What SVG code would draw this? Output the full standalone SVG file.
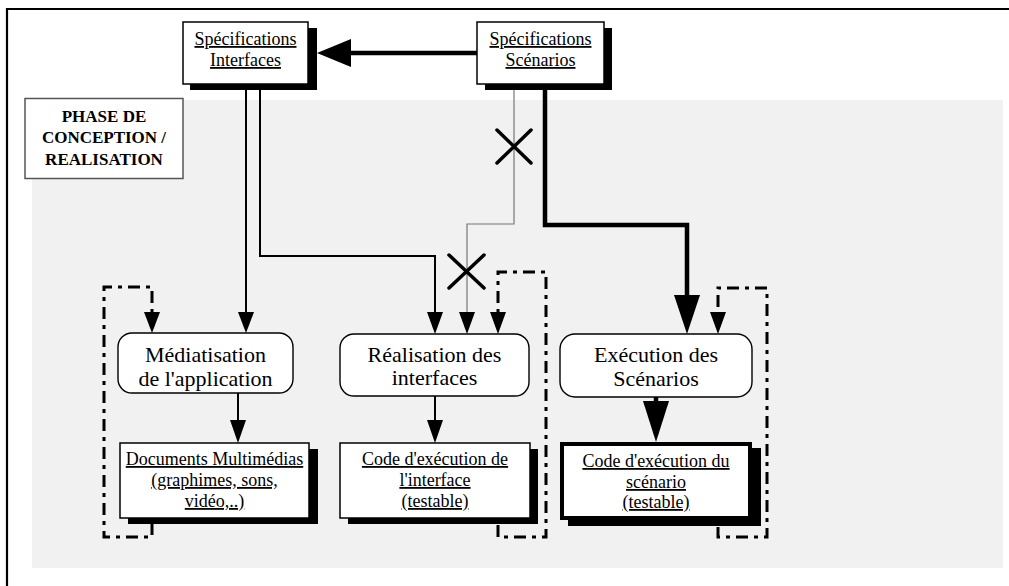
<svg xmlns="http://www.w3.org/2000/svg" width="1009" height="586" viewBox="0 0 1009 586">
<style>
.t{font-family:'Liberation Serif','DejaVu Serif',serif;fill:#000;text-anchor:middle}
.doc{font-size:18px;text-decoration:underline}
.node{font-size:22px}
.ph{font-size:17px;font-weight:bold}
.box{fill:#fff;stroke:#000;stroke-width:1.5}
.sh{fill:#000}
.rr{fill:#fff;stroke:#000;stroke-width:1.4}
.ln{fill:none;stroke:#000;stroke-width:2}
.thk{fill:none;stroke:#000;stroke-width:4.5}
.gry{fill:none;stroke:#777;stroke-width:1.2}
.dsh{fill:none;stroke:#000;stroke-width:3;stroke-dasharray:12,6,4,6}
.x{stroke:#000;stroke-width:3.5;stroke-linecap:round}
.hd{fill:#000}
</style>
<rect width="1009" height="586" fill="#fff"/>
<polyline points="7,586 7,9 1009,9" fill="none" stroke="#000" stroke-width="2.2"/>
<rect x="32" y="100" width="971" height="468" fill="#f1f1f1"/>

<g id="phase">
<rect x="25" y="98.5" width="158" height="80" fill="#fff" stroke="#555" stroke-width="1.5"/>
<text class="t ph" x="104" y="122" font-family="Liberation Serif, serif">PHASE DE</text>
<text class="t ph" x="104" y="143" font-family="Liberation Serif, serif">CONCEPTION /</text>
<text class="t ph" x="104" y="165" font-family="Liberation Serif, serif">REALISATION</text>
</g>

<g id="connectors">
<line class="thk" x1="477" y1="53" x2="349" y2="53"/>
<polygon class="hd" points="317,53 351,39 351,67"/>
<line class="ln" x1="246" y1="90" x2="246" y2="313"/>
<polygon class="hd" points="238,312 254,312 246,333"/>
<polyline class="ln" points="260,90 260,256 435,256 435,313"/>
<polygon class="hd" points="427,312 443,312 435,334"/>
<polyline class="gry" points="514,90 514,224 467,224 467,313"/>
<polygon class="hd" points="459,312 475,312 467,334"/>
<line class="x" x1="497" y1="130" x2="531" y2="163"/>
<line class="x" x1="531" y1="130" x2="497" y2="163"/>
<line class="x" x1="449" y1="255" x2="484" y2="288"/>
<line class="x" x1="484" y1="255" x2="449" y2="288"/>
<polyline class="thk" points="545,90 545,225 687,225 687,297"/>
<polygon class="hd" points="674,295 700,295 687,334"/>
<line class="ln" x1="238" y1="393" x2="238" y2="421"/>
<polygon class="hd" points="230,420 246,420 238,443"/>
<line class="ln" x1="435" y1="396" x2="435" y2="421"/>
<polygon class="hd" points="427,420 443,420 435,443"/>
<line class="thk" x1="656" y1="397" x2="656" y2="403"/>
<polygon class="hd" points="643,401 669,401 656,442"/>
<path class="dsh" d="M152,523 V537 H104 V287 H152 V313"/>
<polygon class="hd" points="144,312 160,312 152,333"/>
<path class="dsh" d="M498,525 V537 H546 V272 H498 V313"/>
<polygon class="hd" points="490,312 506,312 498,334"/>
<path class="dsh" d="M718,527 V537 H767 V288 H718 V313"/>
<polygon class="hd" points="710,312 726,312 718,334"/>
</g>

<g id="spec-interfaces">
<rect class="sh" x="190" y="28" width="127" height="62"/>
<rect class="box" x="183" y="22" width="125" height="62"/>
<text class="t doc" x="245.5" y="45">Spécifications</text>
<text class="t doc" x="245.5" y="66">Interfaces</text>
</g>

<g id="spec-scenarios">
<rect class="sh" x="485" y="28" width="127" height="62"/>
<rect class="box" x="477" y="22" width="127" height="62"/>
<text class="t doc" x="540.5" y="45">Spécifications</text>
<text class="t doc" x="540.5" y="66">Scénarios</text>
</g>

<g id="mediatisation">
<rect class="rr" x="118" y="333" width="175" height="60" rx="14"/>
<text class="t node" x="205.5" y="362">Médiatisation</text>
<text class="t node" x="205.5" y="386">de l'application</text>
</g>

<g id="realisation">
<rect class="rr" x="340" y="334" width="189" height="62" rx="14"/>
<text class="t node" x="434.5" y="362">Réalisation des</text>
<text class="t node" x="434.5" y="385">interfaces</text>
</g>

<g id="execution">
<rect class="rr" x="560" y="334" width="192" height="63" rx="15" stroke-width="4"/>
<text class="t node" x="656" y="362">Exécution des</text>
<text class="t node" x="656" y="386">Scénarios</text>
</g>

<g id="documents">
<rect class="sh" x="128" y="449" width="190" height="75"/>
<rect class="box" x="120" y="443" width="189" height="75"/>
<text class="t doc" x="214.5" y="465">Documents Multimédias</text>
<text class="t doc" x="214.5" y="486">(graphimes, sons,</text>
<text class="t doc" x="214.5" y="507">vidéo,..)</text>
</g>

<g id="code-interface">
<rect class="sh" x="348" y="449" width="190" height="75"/>
<rect class="box" x="340" y="443" width="190" height="75"/>
<text class="t doc" x="435" y="465">Code d'exécution de</text>
<text class="t doc" x="435" y="486">l'interface</text>
<text class="t doc" x="435" y="507">(testable)</text>
</g>

<g id="code-scenario">
<rect class="sh" x="568" y="448" width="193" height="78"/>
<rect x="562" y="444" width="188" height="74" fill="#fff" stroke="#000" stroke-width="4"/>
<text class="t doc" x="656" y="467">Code d'exécution du</text>
<text class="t doc" x="656" y="488">scénario</text>
<text class="t doc" x="656" y="508">(testable)</text>
</g>
</svg>
